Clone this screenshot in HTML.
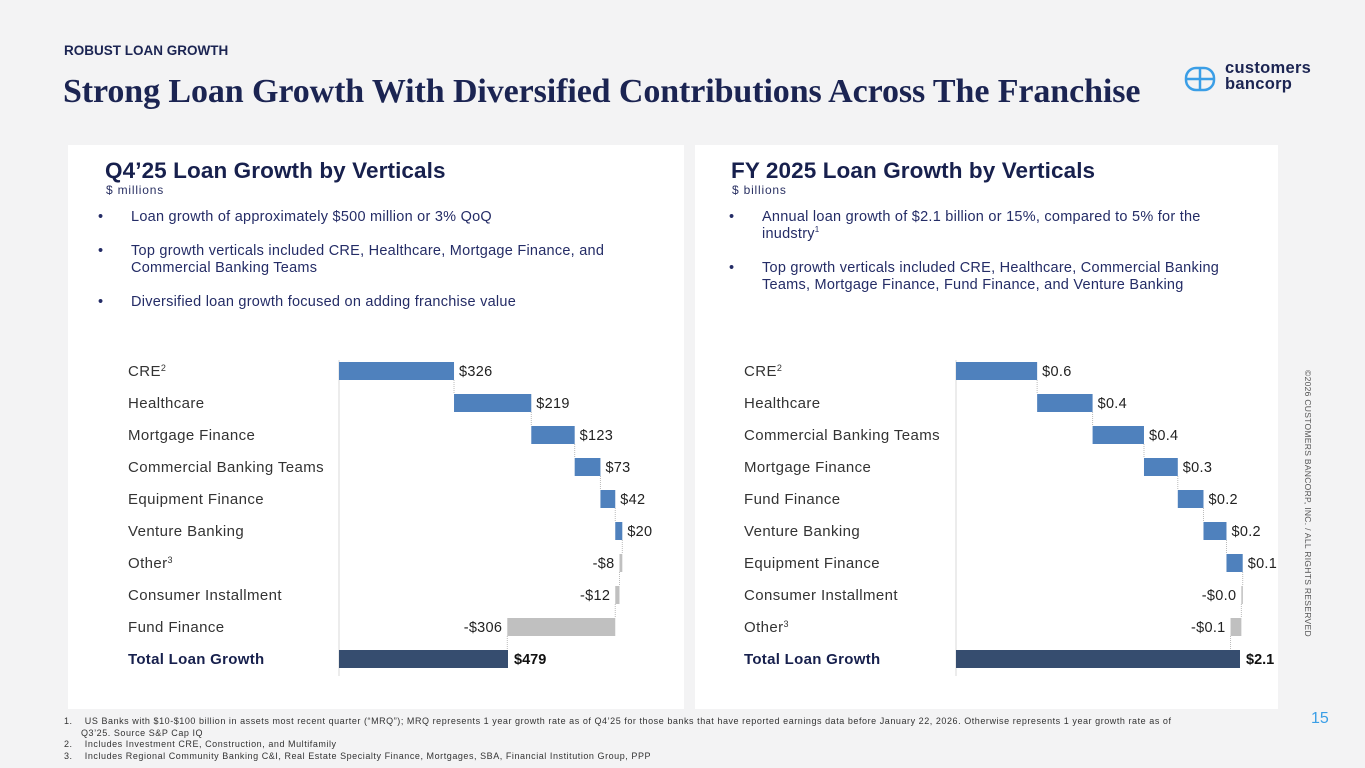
<!DOCTYPE html>
<html><head><meta charset="utf-8"><style>
*{margin:0;padding:0;box-sizing:border-box}
body{width:1365px;height:768px;background:#f3f3f4;font-family:"Liberation Sans",sans-serif;position:relative;overflow:hidden;color:#1b2452}
.abs{position:absolute}
.panel{position:absolute;background:#fff;top:145px;height:564px}
h2{position:absolute;font-size:22.5px;font-weight:bold;color:#17204d;white-space:nowrap;letter-spacing:0.1px}
.unit{position:absolute;font-size:12px;color:#2a3163;letter-spacing:.8px}
ul{position:absolute;list-style:none;font-size:14.5px;color:#242c66;line-height:17px;letter-spacing:0.25px;white-space:nowrap}
ul li{position:relative;padding-left:33px;margin-bottom:17px}
ul li:before{content:"•";position:absolute;left:0}
sup{line-height:0;font-size:8px}
.fn{position:absolute;left:64px;font-size:9px;color:#333;line-height:11.5px;letter-spacing:0.55px;white-space:nowrap}
</style></head><body>
<div class="abs" style="left:64px;top:43px;font-size:13.5px;font-weight:bold;color:#1b2452">ROBUST LOAN GROWTH</div>
<div class="abs" style="left:63px;top:73px;font-family:'Liberation Serif',serif;font-weight:bold;font-size:34px;color:#1b2452;white-space:nowrap;letter-spacing:-0.1px">Strong Loan Growth With Diversified Contributions Across The Franchise</div>
<div class="abs" style="left:1184px;top:62px;width:140px;height:34px">
<svg width="34" height="30" style="position:absolute;left:0;top:3px"><rect x="2" y="3" width="28" height="22" rx="10" fill="none" stroke="#3a9ee6" stroke-width="2.5"/><line x1="2" y1="14" x2="30" y2="14" stroke="#3a9ee6" stroke-width="2.5"/><line x1="16" y1="3" x2="16" y2="25" stroke="#3a9ee6" stroke-width="2.5"/></svg>
<div style="position:absolute;left:41px;top:-2px;font-size:16.5px;font-weight:bold;color:#1b2452;line-height:16px;letter-spacing:0.3px">customers<br>bancorp</div></div>
<div class="abs" style="left:1313px;top:370px;transform:rotate(90deg);transform-origin:0 0;font-size:8.5px;color:#555;white-space:nowrap;letter-spacing:.3px">©2026 CUSTOMERS BANCORP, INC. / ALL RIGHTS RESERVED</div>
<div class="abs" style="left:1311px;top:710px;font-size:16px;color:#3a9ee6">15</div>

<div class="panel" style="left:68px;width:616px"></div>
<div class="panel" style="left:695px;width:583px"></div>

<h2 style="left:105px;top:158px">Q4’25 Loan Growth by Verticals</h2>
<div class="unit" style="left:106px;top:183px">$ millions</div>
<ul style="left:98px;top:209px">
<li>Loan growth of approximately $500 million or 3% QoQ</li>
<li>Top growth verticals included CRE, Healthcare, Mortgage Finance, and<br>Commercial Banking Teams</li>
<li>Diversified loan growth focused on adding franchise value</li></ul>

<h2 style="left:731px;top:158px">FY 2025 Loan Growth by Verticals</h2>
<div class="unit" style="left:732px;top:183px">$ billions</div>
<ul style="left:729px;top:209px">
<li>Annual loan growth of $2.1 billion or 15%, compared to 5% for the<br>inudstry<sup>1</sup></li>
<li>Top growth verticals included CRE, Healthcare, Commercial Banking<br>Teams, Mortgage Finance, Fund Finance, and Venture Banking</li></ul>

<svg id="chart" class="abs" style="left:0;top:0" width="1365" height="768"></svg>

<div class="fn" style="top:716px">
<div>1.&nbsp;&nbsp;&nbsp;&nbsp;US Banks with $10-$100 billion in assets most recent quarter (“MRQ”); MRQ represents 1 year growth rate as of Q4’25 for those banks that have reported earnings data before January 22, 2026. Otherwise represents 1 year growth rate as of</div>
<div style="padding-left:17px">Q3’25. Source S&amp;P Cap IQ</div>
<div>2.&nbsp;&nbsp;&nbsp;&nbsp;Includes Investment CRE, Construction, and Multifamily</div>
<div>3.&nbsp;&nbsp;&nbsp;&nbsp;Includes Regional Community Banking C&amp;I, Real Estate Specialty Finance, Mortgages, SBA, Financial Institution Group, PPP</div></div>

<script>
const leftCats=["CRE","Healthcare","Mortgage Finance","Commercial Banking Teams","Equipment Finance","Venture Banking","Other","Consumer Installment","Fund Finance"];
const leftSup=["2","","","","","","3","",""];
const leftVals=[326,219,123,73,42,20,-8,-12,-306];
const leftLabels=["$326","$219","$123","$73","$42","$20","-$8","-$12","-$306"];
const leftTotal=479;
const leftTotalLabel="$479";
const rightCats=["CRE","Healthcare","Commercial Banking Teams","Mortgage Finance","Fund Finance","Venture Banking","Equipment Finance","Consumer Installment","Other"];
const rightSup=["2","","","","","","","","3"];
const rightVals=[0.6,0.41,0.38,0.25,0.19,0.17,0.12,-0.01,-0.08];
const rightLabels=["$0.6","$0.4","$0.4","$0.3","$0.2","$0.2","$0.1","-$0.0","-$0.1"];
const rightTotal=2.1;
const rightTotalLabel="$2.1";

const svg=document.getElementById('chart');
const NS='http://www.w3.org/2000/svg';
function mk(tag,attrs){const e=document.createElementNS(NS,tag);for(const k in attrs)e.setAttribute(k,attrs[k]);svg.appendChild(e);return e;}
function draw(cats,sups,vals,labels,total,totalLabel,labelX,x0,x1,tag){
  const xs=v=>x0+(v/total)*(x1-x0);
  const rowY=i=>371+i*32;
  const ax=mk('line',{x1:x0,x2:x0,y1:360,y2:676,stroke:'#d8d8d8','stroke-width':1});
  
  
  let cum=0;
  cats.forEach((c,i)=>{
    const y=rowY(i);
    const t=mk('text',{x:labelX,y:y+5,'font-size':15,'letter-spacing':'0.4',fill:'#333','font-family':'Liberation Sans, sans-serif'});
    t.textContent=c;
    if(sups[i]){const s=document.createElementNS(NS,'tspan');s.setAttribute('font-size',9);s.setAttribute('dy',-5);s.textContent=sups[i];t.appendChild(s);}
    
    
    const a=xs(cum),b=xs(cum+vals[i]);
    const lo=Math.min(a,b),hi=Math.max(a,b);
    const r=mk('rect',{x:lo,y:y-9,width:Math.max(hi-lo,1.5),height:18,fill:vals[i]>=0?'#4f81bd':'#c0c0c0'});
    
    
    const conn=mk('line',{x1:b,x2:b,y1:y+9,y2:y+23,stroke:'#bbb','stroke-width':1,'stroke-dasharray':'1,1'});
    
    
    const v=mk('text',{x:vals[i]>=0?hi+5:lo-5,y:y+5,'font-size':14.5,'letter-spacing':'0.3',fill:'#222','text-anchor':vals[i]>=0?'start':'end','font-family':'Liberation Sans, sans-serif'});
    v.textContent=labels[i];
    
    
    cum+=vals[i];
  });
  const y=rowY(cats.length);
  const t=mk('text',{x:labelX,y:y+5,'font-size':15,'letter-spacing':'0.3','font-weight':'bold',fill:'#17204d','font-family':'Liberation Sans, sans-serif'});
  t.textContent='Total Loan Growth';
  
  
  const r=mk('rect',{x:x0,y:y-9,width:xs(total)-x0,height:18,fill:'#364d6f'});
  
  
  const v=mk('text',{x:xs(total)+6,y:y+5,'font-size':14.5,'font-weight':'bold',fill:'#111','font-family':'Liberation Sans, sans-serif'});
  v.textContent=totalLabel;
  
  
}
draw(leftCats,leftSup,leftVals,leftLabels,leftTotal,leftTotalLabel,128,339,508,'q4');
draw(rightCats,rightSup,rightVals,rightLabels,rightTotal,rightTotalLabel,744,956,1240,'fy');
</script>
</body></html>
